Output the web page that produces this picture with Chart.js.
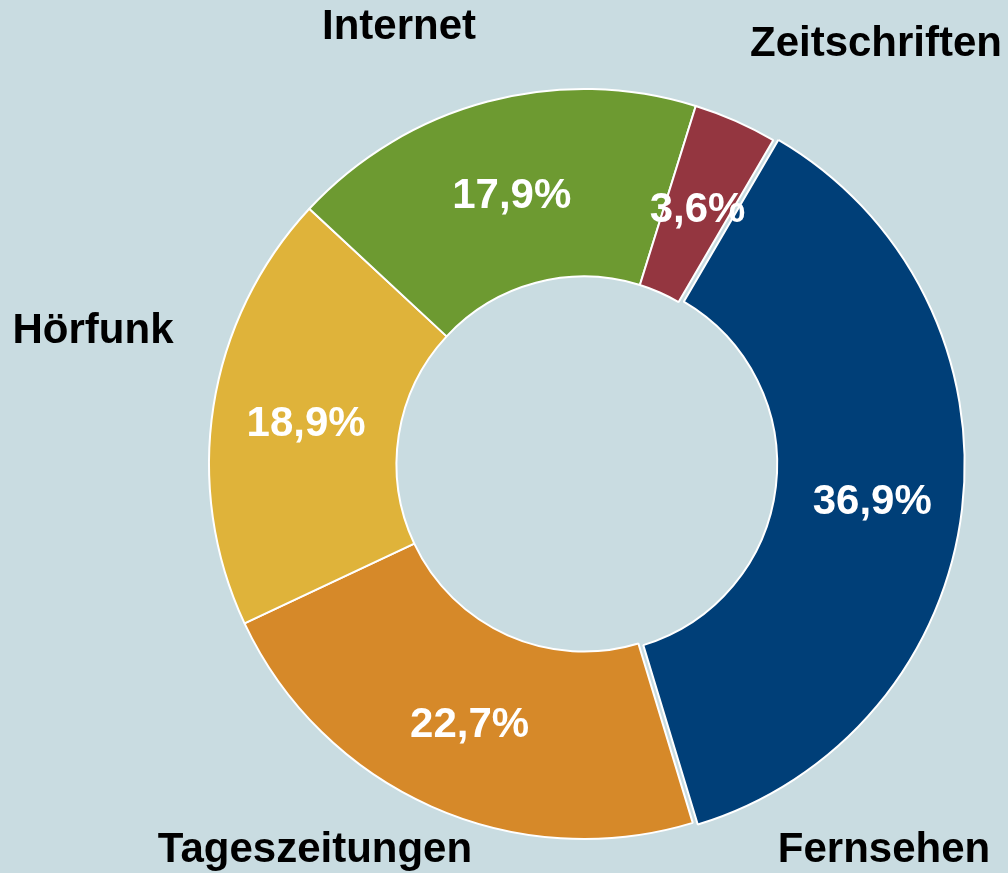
<!DOCTYPE html>
<html>
<head>
<meta charset="utf-8">
<script src="https://cdn.jsdelivr.net/npm/chart.js@4"></script>
<style>
  html, body { margin: 0; padding: 0; background: #c9dce1; }
  #wrap { width: 1008px; height: 873px; }
</style>
</head>
<body>
<div id="wrap"><canvas id="chart" width="1008" height="873"></canvas></div>
<script>
// 🔹 DATA
const categories = ["Fernsehen", "Tageszeitungen", "Hörfunk", "Internet", "Zeitschriften"];
const shares = [36.9, 22.7, 18.9, 17.9, 3.6];
const colors = ["#003f78", "#d68929", "#dfb33a", "#6d9a31", "#943640"];

// 🔹 where the category names sit (hand placed, like in the original)
const namePos = [
  { x: 884, y: 850 },
  { x: 315, y: 850 },
  { x: 93, y: 331 },
  { x: 399, y: 27 },
  { x: 876, y: 44 }
];

const fmt = v => v.toFixed(1).replace(".", ",") + "%";

// 🔹 LABEL PLUGIN
const labelPlugin = {
  id: "labels",
  afterDatasetsDraw(chart) {
    const ctx = chart.ctx;
    const meta = chart.getDatasetMeta(0);
    ctx.save();
    ctx.font = "bold 42px 'Liberation Sans', Arial, sans-serif";
    ctx.textAlign = "center";
    ctx.textBaseline = "middle";

    meta.data.forEach((arc, i) => {
      const p = arc.getCenterPoint();
      ctx.fillStyle = "#ffffff";
      ctx.fillText(fmt(shares[i]), p.x, p.y + 4);

      ctx.fillStyle = "#000000";
      ctx.fillText(categories[i], namePos[i].x, namePos[i].y);
    });
    ctx.restore();
  }
};

new Chart(document.getElementById("chart"), {
  type: "doughnut",
  data: {
    labels: categories,
    datasets: [{
      data: shares,
      backgroundColor: colors,
      borderColor: "#ffffff",
      borderWidth: 2,
      offset: [18, 0, 0, 0, 0]
    }]
  },
  options: {
    responsive: false,
    animation: false,
    rotation: 30.3,
    cutout: "50%",
    layout: { padding: { left: 199, right: 39, top: 79, bottom: 24 } },
    plugins: {
      legend: { display: false },
      tooltip: { enabled: false }
    }
  },
  plugins: [labelPlugin]
});
</script>
</body>
</html>
